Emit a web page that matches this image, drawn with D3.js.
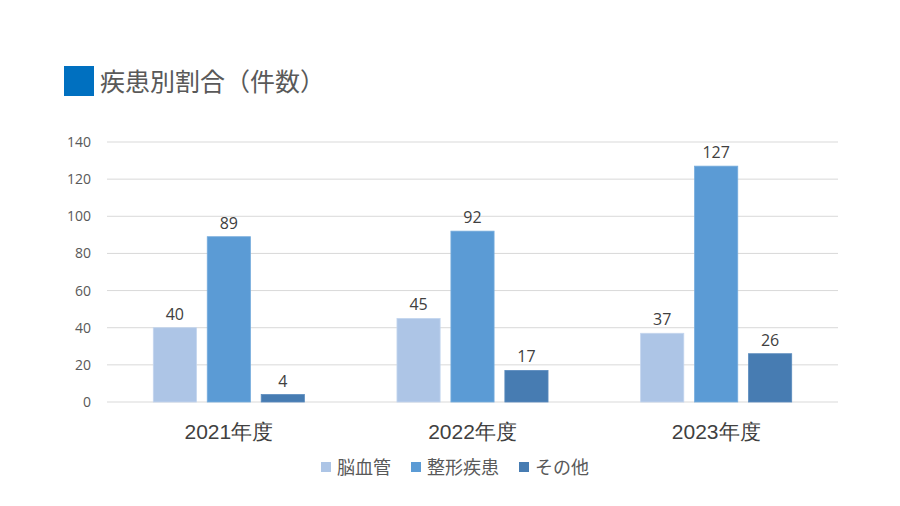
<!DOCTYPE html>
<html>
<head>
<meta charset="utf-8">
<script src="https://cdn.jsdelivr.net/npm/d3@7"></script>
<style>
  html, body { margin: 0; padding: 0; background: #fff; }
  svg { display: block; font-family: "Open Sans", "Noto Sans CJK JP", sans-serif; }
</style>
</head>
<body>
<div id="chart"></div>
<script>
// chart data
const categories = ['2021年度', '2022年度', '2023年度'];
const seriesNames = ['脳血管', '整形疾患', 'その他'];
const cerebro = [40, 45, 37];
const ortho = [89, 92, 127];
const other = [4, 17, 26];
const yTicks = [0, 20, 40, 60, 80, 100, 120, 140];

const seriesValues = [cerebro, ortho, other];
const colors = ['#adc5e6', '#5b9bd5', '#477cb2'];
const strokes = ['#c3d5ee', '#76acdd', '#5a8bbd'];

const width = 900, height = 506;
const margin = { top: 142, right: 62, bottom: 104, left: 107 };

const svg = d3.select('#chart').append('svg')
    .attr('width', width)
    .attr('height', height);

// title
svg.append('rect')
    .attr('x', 64).attr('y', 66).attr('width', 30).attr('height', 30)
    .attr('fill', '#0070c0');
svg.append('text')
    .attr('x', 100).attr('y', 91)
    .attr('font-size', 25)
    .attr('fill', '#595959')
    .style('font-family', '"Noto Sans CJK JP", sans-serif')
    .text('疾患別割合（件数）');

// scales
const x0 = d3.scaleBand()
    .domain(categories)
    .range([margin.left, width - margin.right])
    .paddingInner(0.38)
    .paddingOuter(0.19);

const x1 = d3.scaleBand()
    .domain(seriesNames)
    .range([0, x0.bandwidth()])
    .paddingInner(0.2);

const y = d3.scaleLinear()
    .domain([0, 140])
    .range([height - margin.bottom, margin.top]);

// gridlines
svg.append('g')
    .selectAll('line')
    .data(yTicks)
    .join('line')
    .attr('x1', margin.left)
    .attr('x2', width - margin.right)
    .attr('y1', d => y(d))
    .attr('y2', d => y(d))
    .attr('stroke', '#d9d9d9')
    .attr('stroke-width', 1);

// y axis labels
const yAxis = svg.append('g')
    .attr('transform', `translate(${margin.left - 16},0)`)
    .call(d3.axisLeft(y).tickValues(yTicks).tickSize(0).tickPadding(0));
yAxis.select('.domain').remove();
yAxis.selectAll('text')
    .attr('fill', '#595959')
    .attr('font-size', 14)
    .style('font-family', '"Open Sans", sans-serif');

// bars
const groups = svg.append('g')
    .selectAll('g')
    .data(categories)
    .join('g')
    .attr('transform', d => `translate(${x0(d)},0)`);

groups.selectAll('rect')
    .data((c, i) => seriesNames.map((s, j) => ({ s, j, v: seriesValues[j][i] })))
    .join('rect')
    .attr('x', d => x1(d.s))
    .attr('y', d => y(d.v))
    .attr('width', x1.bandwidth())
    .attr('height', d => y(0) - y(d.v))
    .attr('fill', d => colors[d.j])
    .attr('stroke', d => strokes[d.j])
    .attr('stroke-width', 0.8);

groups.selectAll('text')
    .data((c, i) => seriesNames.map((s, j) => ({ s, j, v: seriesValues[j][i] })))
    .join('text')
    .attr('x', d => x1(d.s) + x1.bandwidth() / 2)
    .attr('y', d => y(d.v) - 8)
    .attr('text-anchor', 'middle')
    .attr('font-size', 16)
    .attr('fill', '#404040')
    .style('font-family', '"Open Sans", sans-serif')
    .text(d => d.v);

// x axis labels
const xAxis = svg.append('g')
    .attr('transform', `translate(0,${height - margin.bottom})`)
    .call(d3.axisBottom(x0).tickSize(0).tickPadding(22));
xAxis.select('.domain').remove();
xAxis.selectAll('text')
    .attr('fill', '#404040')
    .attr('font-size', 21);

// legend
const legendItems = [
  { name: seriesNames[0], x: 321 },
  { name: seriesNames[1], x: 411 },
  { name: seriesNames[2], x: 519 }
];
const legend = svg.append('g');
legendItems.forEach((item, j) => {
  legend.append('rect')
      .attr('x', item.x).attr('y', 462)
      .attr('width', 10).attr('height', 10)
      .attr('fill', colors[j]);
  legend.append('text')
      .attr('x', item.x + 16).attr('y', 474)
      .attr('font-size', 18)
      .attr('fill', '#595959')
      .style('font-family', '"Noto Sans CJK JP", sans-serif')
      .text(item.name);
});
</script>
</body>
</html>
